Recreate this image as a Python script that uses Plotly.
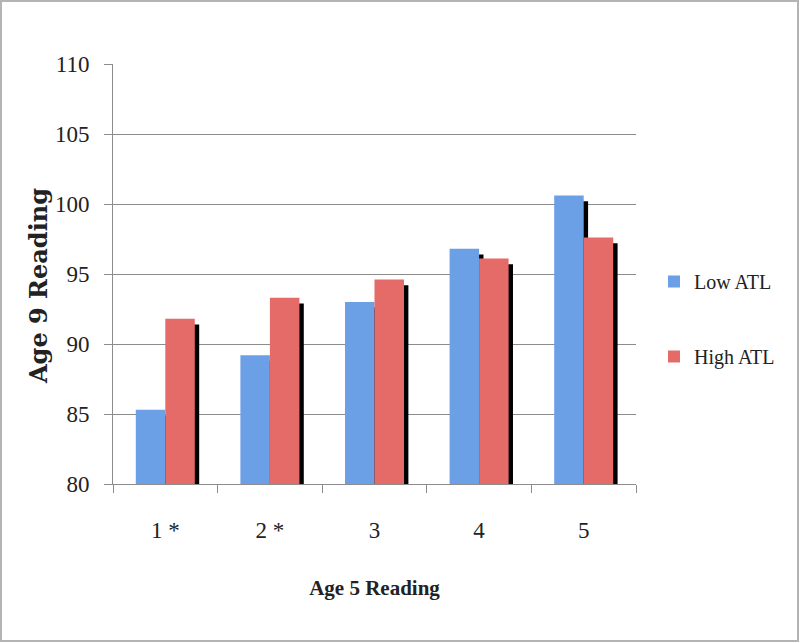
import plotly.graph_objects as go

# ---- data ----
categories = ["1 *", "2 *", "3", "4", "5"]
low_atl = [85.3, 89.2, 93.0, 96.8, 100.6]
high_atl = [91.8, 93.3, 94.6, 96.1, 97.6]
series_names = ["Low ATL", "High ATL"]
y_ticks = [80, 85, 90, 95, 100, 105, 110]

# ---- styling ----
W, H = 800, 643
ML, MR, MT, MB = 113, 164, 64, 159
PW = W - ML - MR
PH = H - MT - MB
FONT = "Liberation Serif"
BLUE = "#6B9FE6"
RED = "#E56B69"
BAR_W = 0.282
SH_DX = 0.042      # shadow shift right (category units)
SH_DY = 0.4        # shadow drop (value units)


def px_x(px):
    return (px - ML) / PW


def px_y(py):
    return (H - MB - py) / PH


fig = go.Figure()

# shadows (drawn first, behind)
for vals, off in ((low_atl, -BAR_W), (high_atl, 0.0)):
    fig.add_trace(go.Bar(
        x=categories, y=[v - SH_DY - 80 for v in vals], base=80,
        width=BAR_W, offset=off + SH_DX,
        marker=dict(color="black", line=dict(width=0)),
        showlegend=False, hoverinfo="skip",
    ))

fig.add_trace(go.Bar(
    x=categories, y=[v - 80 for v in low_atl], base=80, name=series_names[0],
    width=BAR_W, offset=-BAR_W, legendgroup="a",
    marker=dict(color=BLUE, line=dict(width=0)),
))
fig.add_trace(go.Bar(
    x=categories, y=[v - 80 for v in high_atl], base=80, name=series_names[1],
    width=BAR_W, offset=0.0, legendgroup="b",
    marker=dict(color=RED, line=dict(width=0)),
))

fig.update_layout(
    width=W, height=H,
    margin=dict(l=ML, r=MR, t=MT, b=MB, pad=0),
    paper_bgcolor="white", plot_bgcolor="white",
    barmode="overlay",
    font=dict(family=FONT, color="#222222"),
    legend=dict(
        x=px_x(654), y=px_y(262), xref="paper", yref="paper",
        xanchor="left", yanchor="top",
        font=dict(family=FONT, size=20, color="#222222"),
        tracegroupgap=46, traceorder="grouped",
        bgcolor="rgba(0,0,0,0)",
    ),
    xaxis=dict(
        type="category", range=[-0.5, 4.5],
        showline=True, linecolor="#8c8c8c", linewidth=1,
        ticks="outside", ticklen=8, tickcolor="#8c8c8c", tickson="boundaries",
        tickfont=dict(family=FONT, size=23, color="#222222"),
        ticklabelstandoff=25,
        showgrid=False,
        title=dict(text="<b>Age 5 Reading</b>", font=dict(family=FONT, size=21, color="#222222"), standoff=38),
    ),
    yaxis=dict(
        range=[80, 110], tickvals=y_ticks,
        showline=True, linecolor="#8c8c8c", linewidth=1,
        ticks="outside", ticklen=8, tickcolor="#8c8c8c",
        tickfont=dict(family=FONT, size=23, color="#222222"),
        ticklabelstandoff=10,
        showgrid=True, gridcolor="#8c8c8c", gridwidth=1,
        zeroline=False,
    ),
    annotations=[dict(
        text="<b>Age 9 Reading</b>", textangle=-90,
        xref="paper", yref="paper",
        x=px_x(38), y=px_y(286),
        xanchor="center", yanchor="middle", showarrow=False,
        font=dict(family="DejaVu Serif", size=24, color="#222222"),
    )],
    shapes=[dict(
        type="rect", xref="paper", yref="paper",
        x0=px_x(1), x1=px_x(798),
        y0=px_y(641), y1=px_y(1),
        line=dict(color="#b4b4b4", width=2), fillcolor="rgba(0,0,0,0)",
        layer="below",
    )],
)

fig.write_html("out.html", config={"displayModeBar": False},
               post_script="document.body.style.margin='0';")
